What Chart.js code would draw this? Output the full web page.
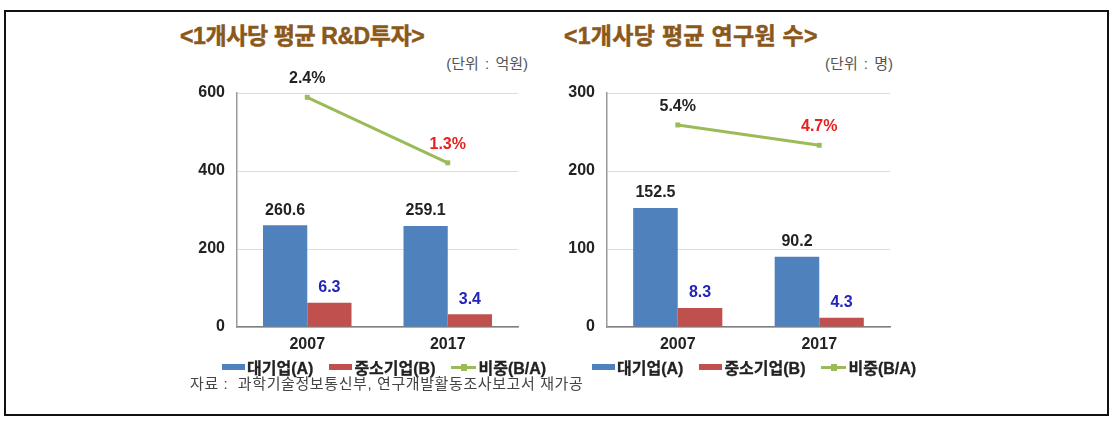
<!DOCTYPE html>
<html>
<head>
<meta charset="utf-8">
<script src="https://cdn.jsdelivr.net/npm/chart.js@4"></script>
<style>
  body { margin: 0; width: 1120px; height: 422px; background: #fff; position: relative; overflow: hidden;
         font-family: "Liberation Sans", "Noto Sans CJK KR", sans-serif; }
  .frame { position: absolute; left: 4px; top: 10px; width: 1101px; height: 402px; border: 2px solid #111; }
  .title { position: absolute; top: 17px; font-size: 23px; font-weight: bold; color: #8a581a; white-space: nowrap;
           -webkit-text-stroke: 0.5px #8a581a; }
  .unit { position: absolute; top: 52px; font-size: 15px; color: #555; white-space: nowrap; }
  canvas { position: absolute; }
  .legend { position: absolute; top: 355px; display: flex; align-items: center; font-size: 16px; font-weight: bold; color: #222;
            white-space: nowrap; -webkit-text-stroke: 0.3px #222; }
  .legend .item { display: flex; align-items: center; margin-right: 16px; }
  .legend .sw { width: 23px; height: 6px; margin-right: 2px; }
  .legend .ln { width: 25px; height: 3px; margin-right: 2px; position: relative; background: #9bbb59; }
  .legend .ln i { position: absolute; left: 10px; top: -2px; width: 6px; height: 7px; background: #9bbb59; }
  .note { position: absolute; left: 190px; top: 372px; font-size: 15px; letter-spacing: 0.6px; color: #444; white-space: nowrap; }
</style>
</head>
<body>
<div class="frame"></div>

<div class="title" style="left:180px;letter-spacing:-0.4px">&lt;1개사당 평균 R&amp;D투자&gt;</div>
<div class="unit" style="right:592px;word-spacing:2px">(단위 : 억원)</div>
<div class="title" style="left:564px;letter-spacing:0.3px">&lt;1개사당 평균 연구원 수&gt;</div>
<div class="unit" style="right:227px;word-spacing:2px">(단위 : 명)</div>

<canvas id="rd-chart" width="360" height="300" style="left:170px;top:60px"></canvas>
<canvas id="staff-chart" width="360" height="300" style="left:540px;top:60px"></canvas>

<div class="legend" style="left:222px">
  <div class="item"><div class="sw" style="background:#4f81bd"></div>대기업(A)</div>
  <div class="item"><div class="sw" style="background:#c0504d"></div>중소기업(B)</div>
  <div class="item"><div class="ln"><i></i></div>비중(B/A)</div>
</div>
<div class="legend" style="left:592px">
  <div class="item"><div class="sw" style="background:#4f81bd"></div>대기업(A)</div>
  <div class="item"><div class="sw" style="background:#c0504d"></div>중소기업(B)</div>
  <div class="item"><div class="ln"><i></i></div>비중(B/A)</div>
</div>

<div class="note">자료 :&nbsp; 과학기술정보통신부, 연구개발활동조사보고서 재가공</div>

<script>
const years = ["2007", "2017"];

// R&D 투자 (억원)
const rdLarge = [260.6, 259.1];
const rdSmeLabel = [6.3, 3.4];
const rdSmeBar = [62, 33];        // bar heights as drawn in the source
const rdShareLabel = [2.4, 1.3];
const rdSharePos = [589, 421];    // line point heights as drawn
const rdTicks = [0, 200, 400, 600];

// 연구원 수 (명)
const staffLarge = [152.5, 90.2];
const staffSmeLabel = [8.3, 4.3];
const staffSmeBar = [24.5, 12];
const staffShareLabel = [5.4, 4.7];
const staffSharePos = [259, 233];
const staffTicks = [0, 100, 200, 300];

const FONT = "'Liberation Sans', 'Noto Sans CJK KR', sans-serif";
const shareColors = ["#222222", "#e8201e"];

// draws the value labels above bars and line points
const valueLabels = {
  id: "valueLabels",
  afterDatasetsDraw(chart) {
    const ctx = chart.ctx;
    const texts = chart.options.plugins.valueLabels.texts;
    ctx.save();
    ctx.font = "bold 16px " + FONT;
    ctx.textAlign = "center";
    ctx.textBaseline = "middle";
    chart.data.datasets.forEach((ds, i) => {
      const meta = chart.getDatasetMeta(i);
      meta.data.forEach((el, j) => {
        let color = "#222222";
        let off = 15;
        if (i == 1) color = "#2424b8";
        if (i == 2) { color = shareColors[j]; off = 18.5; }
        ctx.fillStyle = color;
        ctx.fillText(texts[i][j], el.x, el.y - off);
      });
    });
    ctx.restore();
  }
};

function makeChart(id, large, smeBar, sharePos, ticks, texts, padRight) {
  const ctx = document.getElementById(id).getContext("2d");
  return new Chart(ctx, {
    type: "bar",
    data: {
      labels: years,
      datasets: [
        { label: "대기업(A)", data: large, backgroundColor: "#4f81bd", order: 2 },
        { label: "중소기업(B)", data: smeBar, backgroundColor: "#c0504d", order: 2 },
        {
          type: "line", label: "비중(B/A)", data: sharePos, order: 1,
          borderColor: "#9bbb59", borderWidth: 3, backgroundColor: "#9bbb59",
          pointStyle: "rect", pointRadius: 3.5, pointBackgroundColor: "#9bbb59", pointBorderWidth: 0,
          tension: 0
        }
      ]
    },
    options: {
      responsive: false,
      animation: false,
      layout: { padding: { left: 0, right: padRight, top: 33, bottom: 0 } },
      datasets: { bar: { barPercentage: 1, categoryPercentage: 0.63 } },
      plugins: {
        legend: { display: false },
        tooltip: { enabled: false },
        valueLabels: { texts: texts }
      },
      scales: {
        x: {
          afterFit: function (scale) { scale.height = 33; },
          grid: { display: false, drawTicks: false },
          border: { color: "#7f7f7f", width: 1.5 },
          ticks: { color: "#222", padding: 8, font: { family: FONT, size: 16, weight: "bold" } }
        },
        y: {
          min: ticks[0],
          max: ticks[ticks.length - 1],
          afterFit: function (scale) { scale.width = 67; },
          afterBuildTicks: function (scale) { scale.ticks = ticks.map(v => ({ value: v })); },
          grid: { color: "#dcdcdc", drawTicks: false },
          border: { color: "#9a9a9a", width: 1.5 },
          ticks: { color: "#222", padding: 12, font: { family: FONT, size: 16, weight: "bold" } }
        }
      }
    },
    plugins: [valueLabels]
  });
}

makeChart("rd-chart", rdLarge, rdSmeBar, rdSharePos, rdTicks, [
  rdLarge.map(v => v.toFixed(1)),
  rdSmeLabel.map(v => v.toFixed(1)),
  rdShareLabel.map(v => v.toFixed(1) + "%")
], 12);

makeChart("staff-chart", staffLarge, staffSmeBar, staffSharePos, staffTicks, [
  staffLarge.map(v => v.toFixed(1)),
  staffSmeLabel.map(v => v.toFixed(1)),
  staffShareLabel.map(v => v.toFixed(1) + "%")
], 10);
</script>
</body>
</html>
